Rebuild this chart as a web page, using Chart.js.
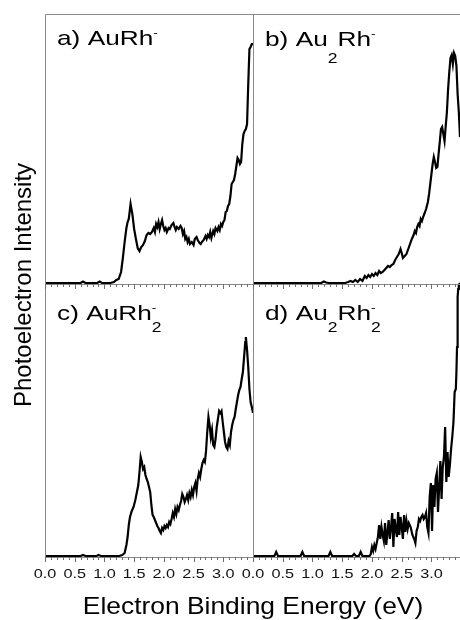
<!DOCTYPE html>
<html>
<head>
<meta charset="utf-8">
<script src="https://cdn.jsdelivr.net/npm/chart.js@4.4.1/dist/chart.umd.min.js"></script>
<style>
  html, body { margin: 0; padding: 0; background: #fff; overflow: hidden; }
  #wrap { position: relative; width: 460px; height: 620px; }
  #wrap canvas { position: absolute; left: 0; top: 0; }
</style>
</head>
<body>
<div id="wrap">
  <canvas id="pa" width="460" height="620"></canvas>
  <canvas id="pb" width="460" height="620"></canvas>
  <canvas id="pc" width="460" height="620"></canvas>
  <canvas id="pd" width="460" height="620"></canvas>
</div>
<script>
// valeurs (energie en eV, intensite en unites arbitraires)
const energieA = [0.00, 0.30, 0.60, 0.64, 0.68, 0.88, 0.92, 0.96, 1.10, 1.16, 1.20, 1.24, 1.28, 1.31, 1.34, 1.37, 1.39, 1.41, 1.44, 1.47,
  1.50, 1.53, 1.56, 1.59, 1.62, 1.65, 1.68, 1.71, 1.74, 1.77, 1.80, 1.83, 1.85, 1.87, 1.89, 1.91, 1.93, 1.95, 1.97, 1.99,
  2.01, 2.03, 2.05, 2.08, 2.10, 2.13, 2.16, 2.18, 2.20, 2.22, 2.25, 2.28, 2.30, 2.32, 2.34, 2.36, 2.38, 2.40, 2.42, 2.44,
  2.47, 2.50, 2.52, 2.55, 2.57, 2.60, 2.62, 2.64, 2.67, 2.70, 2.72, 2.74, 2.76, 2.78, 2.80, 2.83, 2.85, 2.87, 2.90, 2.92,
  2.94, 2.96, 2.98, 3.00, 3.02, 3.04, 3.06, 3.08, 3.10, 3.12, 3.14, 3.16, 3.18, 3.20, 3.22, 3.24, 3.26, 3.28, 3.30, 3.32,
  3.34, 3.36, 3.38, 3.40, 3.42, 3.44, 3.46, 3.48, 3.50];
const intensiteA = [1, 1, 1, 2.5, 1, 1, 2.5, 1, 1, 2, 4, 5, 12, 26, 42, 56, 62, 65, 80, 70,
  55, 45, 36, 33, 37, 39, 43, 49, 51, 50, 52, 56, 52, 60, 57, 62, 55, 60, 64, 58,
  54, 56, 52, 56, 55, 59, 61, 57, 54, 57, 55, 58, 56, 50, 53, 45, 47, 42, 45, 40,
  42, 39, 45, 47, 44, 41, 40, 42, 44, 48, 45, 49, 47, 52, 46, 53, 50, 56, 53, 57,
  54, 60, 58, 62, 64, 72, 73, 78, 80, 88, 100, 102, 104, 110, 118, 126, 124, 120, 122, 140,
  150, 153, 155, 160, 200, 235, 237, 240, 240];

const energieB = [0.00, 1.15, 1.19, 1.23, 1.27, 1.55, 1.60, 1.64, 1.68, 1.72, 1.76, 1.80, 1.84, 1.88, 1.91, 1.94, 1.97, 2.00, 2.03, 2.06,
  2.09, 2.12, 2.15, 2.18, 2.21, 2.24, 2.27, 2.30, 2.33, 2.36, 2.39, 2.42, 2.45, 2.48, 2.50, 2.52, 2.55, 2.58, 2.61, 2.64,
  2.67, 2.70, 2.72, 2.74, 2.76, 2.78, 2.80, 2.82, 2.84, 2.86, 2.88, 2.91, 2.94, 2.96, 2.98, 3.00, 3.02, 3.04, 3.06, 3.08,
  3.10, 3.12, 3.14, 3.16, 3.18, 3.20, 3.22, 3.24, 3.26, 3.28, 3.30, 3.32, 3.34, 3.36, 3.38, 3.40, 3.42, 3.44, 3.46, 3.48];
const intensiteB = [1, 1, 2.5, 1.5, 1, 1, 2, 3, 2, 4, 2, 5, 3, 8, 6, 9, 7, 10, 8, 11,
  9, 13, 11, 12, 14, 16, 18, 17, 19, 20, 24, 27, 30, 35, 31, 26, 28, 30, 35, 40,
  45, 49, 53, 51, 57, 60, 58, 65, 63, 67, 70, 75, 82, 90, 100, 110, 120, 127, 122, 116,
  117, 130, 142, 155, 157, 150, 143, 158, 172, 195, 212, 226, 229, 220, 231, 228, 218, 190, 172, 147];

const energieC = [0.00, 0.60, 0.64, 0.68, 0.87, 0.90, 0.94, 1.25, 1.30, 1.34, 1.37, 1.39, 1.41, 1.43, 1.46, 1.49, 1.52, 1.55, 1.57, 1.59,
  1.61, 1.63, 1.65, 1.67, 1.69, 1.71, 1.73, 1.75, 1.77, 1.79, 1.81, 1.83, 1.85, 1.87, 1.89, 1.91, 1.93, 1.95, 1.97, 1.99,
  2.01, 2.03, 2.05, 2.07, 2.09, 2.11, 2.13, 2.15, 2.17, 2.19, 2.21, 2.23, 2.25, 2.27, 2.29, 2.31, 2.33, 2.35, 2.37, 2.39,
  2.41, 2.43, 2.45, 2.47, 2.49, 2.51, 2.53, 2.55, 2.57, 2.59, 2.61, 2.63, 2.65, 2.67, 2.69, 2.71, 2.73, 2.75, 2.77, 2.79,
  2.81, 2.83, 2.85, 2.87, 2.89, 2.91, 2.93, 2.95, 2.97, 2.99, 3.01, 3.03, 3.05, 3.07, 3.09, 3.11, 3.13, 3.15, 3.17, 3.19,
  3.21, 3.23, 3.25, 3.27, 3.29, 3.31, 3.33, 3.35, 3.37, 3.38, 3.40, 3.42, 3.44, 3.46, 3.48, 3.50];
const intensiteC = [1, 1, 2, 1, 1, 2, 1, 1, 2, 4, 12, 20, 32, 40, 46, 50, 57, 66, 72, 85,
  100, 95, 88, 90, 82, 78, 75, 70, 65, 52, 42, 40, 37, 34, 31, 29, 26, 24, 29, 27,
  31, 29, 32, 30, 35, 33, 38, 44, 40, 48, 43, 50, 47, 52, 56, 63, 60, 55, 58, 62,
  57, 64, 60, 67, 62, 70, 74, 66, 78, 84, 80, 88, 94, 97, 95, 106, 125, 140, 132, 120,
  127, 112, 110, 118, 130, 138, 146, 144, 146, 135, 125, 115, 110, 108, 116, 112, 125, 132, 137, 140,
  148, 155, 162, 167, 170, 178, 185, 200, 215, 220, 207, 190, 168, 155, 150, 144];

const energieD = [0.00, 0.36, 0.39, 0.42, 0.80, 0.83, 0.86, 1.27, 1.30, 1.33, 1.67, 1.70, 1.73, 1.78, 1.81, 1.84, 1.96, 1.98, 2.00, 2.02,
  2.04, 2.06, 2.08, 2.10, 2.12, 2.14, 2.16, 2.18, 2.20, 2.22, 2.24, 2.26, 2.28, 2.30, 2.32, 2.34, 2.36, 2.38, 2.40, 2.42,
  2.44, 2.46, 2.48, 2.50, 2.52, 2.54, 2.56, 2.58, 2.60, 2.62, 2.65, 2.68, 2.71, 2.73, 2.75, 2.77, 2.79, 2.81, 2.83, 2.85,
  2.87, 2.89, 2.91, 2.93, 2.95, 2.97, 2.99, 3.01, 3.03, 3.05, 3.07, 3.09, 3.11, 3.13, 3.15, 3.17, 3.19, 3.21, 3.23, 3.25,
  3.27, 3.29, 3.31, 3.33, 3.35, 3.37, 3.39, 3.41, 3.42, 3.43, 3.44, 3.45, 3.46, 3.48];
const intensiteD = [1, 1, 5, 1, 1, 5, 1, 1, 5, 1, 1, 3, 1, 1, 5, 1, 1, 3, 10, 6,
  12, 8, 14, 20, 32, 18, 30, 22, 16, 34, 12, 24, 37, 18, 30, 44, 10, 38, 28, 20,
  45, 22, 40, 30, 18, 42, 25, 36, 28, 34, 30, 22, 18, 14, 26, 30, 38, 36, 40, 42,
  38, 40, 44, 30, 24, 60, 74, 26, 72, 50, 78, 84, 45, 70, 96, 58, 90, 100, 130, 75,
  105, 80, 92, 108, 120, 135, 165, 168, 185, 210, 260, 268, 272, 274];

const etiquettesX = [0, 0.5, 1.0, 1.5, 2.0, 2.5, 3.0];
const titreX = 'Electron Binding Energy (eV)';
const titreY = 'Photoelectron Intensity';

const FONT = '"Liberation Sans", Arial, sans-serif';

function texteEtire(ctx, txt, x, y, size, sx, align) {
  ctx.save();
  ctx.font = size + 'px ' + FONT;
  ctx.translate(x, y);
  ctx.scale(sx, 1);
  ctx.textAlign = align || 'left';
  ctx.fillText(txt, 0, 0);
  const w = ctx.measureText(txt).width * sx;
  ctx.restore();
  return w;
}

// morceaux: [texte, 'n' | 'sub' | 'sup', sans avancer]
function nomPanneau(ctx, x, y, morceaux, subDy) {
  let cx = x;
  morceaux.forEach(m => {
    let size = 21, dy = 0;
    if (m[1] === 'sub') { size = 14; dy = subDy; }
    if (m[1] === 'sup') { size = 11; dy = -9; }
    const w = texteEtire(ctx, m[0], cx, y + dy, size, 1.25);
    if (!m[2]) cx += w;
  });
}

function cadre(cfg) {
  return {
    id: 'cadre',
    afterDraw(chart) {
      const ctx = chart.ctx;
      const a = chart.chartArea;
      const xs = chart.scales.x;
      ctx.save();
      ctx.strokeStyle = '#8a8a8a';
      ctx.lineWidth = 1;
      ctx.beginPath();
      ctx.moveTo(a.left + 0.5, a.bottom + 0.5);
      ctx.lineTo(a.left + 0.5, a.top + 0.5);
      ctx.lineTo(a.right + 0.5, a.top + 0.5);
      if (cfg.bordDroit) ctx.lineTo(a.right + 0.5, a.bottom + 0.5);
      ctx.moveTo(a.left + 0.5, a.bottom + 0.5);
      ctx.lineTo(a.right + 0.5, a.bottom + 0.5);
      ctx.stroke();

      if (cfg.graduations) {
        ctx.strokeStyle = '#6e6e6e';
        ctx.beginPath();
        for (let i = 0; i <= 35; i++) {
          const v = i / 10;
          if (v > xs.max + 1e-9) break;
          const px = Math.round(xs.getPixelForValue(v)) + 0.5;
          const len = (i % 5 === 0) ? 5 : 3;
          ctx.moveTo(px, a.bottom);
          ctx.lineTo(px, a.bottom + len);
          ctx.moveTo(px, a.top);
          ctx.lineTo(px, a.top + len);
        }
        ctx.stroke();
        ctx.fillStyle = '#111';
        ctx.textBaseline = 'middle';
        etiquettesX.forEach(v => {
          texteEtire(ctx, v.toFixed(1), xs.getPixelForValue(v), a.bottom + 17, 13, 1.25, 'center');
        });
      }

      ctx.fillStyle = '#000';
      ctx.textBaseline = 'alphabetic';
      nomPanneau(ctx, a.left + 12, a.top + cfg.nomY, cfg.nom, cfg.subDy || 12);

      if (cfg.titres) {
        texteEtire(ctx, titreX, 253, 614, 24, 1.1, 'center');
        ctx.save();
        ctx.translate(31, 285);
        ctx.rotate(-Math.PI / 2);
        texteEtire(ctx, titreY, 0, 0, 24, 1.0, 'center');
        ctx.restore();
      }
      ctx.restore();
    }
  };
}

function panneau(id, energie, intensite, yMax, xMax, pad, cfg) {
  return new Chart(document.getElementById(id), {
    type: 'line',
    data: {
      datasets: [{
        data: energie.map((e, i) => ({ x: e, y: intensite[i] })),
        borderColor: '#000',
        borderWidth: 2.2,
        pointRadius: 0,
        tension: 0,
        fill: false,
        clip: false
      }]
    },
    options: {
      responsive: false,
      animation: false,
      events: [],
      layout: { padding: pad },
      plugins: { legend: { display: false }, tooltip: { enabled: false } },
      scales: {
        x: { type: 'linear', min: 0, max: xMax, display: false },
        y: { type: 'linear', min: 0, max: yMax, display: false }
      }
    },
    plugins: [cadre(cfg)]
  });
}

panneau('pa', energieA, intensiteA, 270, 3.5, { left: 45, top: 14, right: 207, bottom: 336 },
  { nom: [['a) AuRh', 'n'], ['-', 'sup']], nomY: 31, bordDroit: true });
panneau('pb', energieB, intensiteB, 270, 3.48, { left: 253, top: 14, right: 0, bottom: 336 },
  { nom: [['b) Au', 'n'], ['2', 'sub'], ['Rh', 'n'], ['-', 'sup']], nomY: 32, subDy: 17 });
panneau('pc', energieC, intensiteC, 273, 3.5, { left: 45, top: 284, right: 207, bottom: 63 },
  { nom: [['c) AuRh', 'n'], ['2', 'sub', true], ['-', 'sup']], nomY: 36, subDy: 12, graduations: true, bordDroit: true, titres: true });
panneau('pd', energieD, intensiteD, 273, 3.48, { left: 253, top: 284, right: 0, bottom: 63 },
  { nom: [['d) Au', 'n'], ['2', 'sub'], ['Rh', 'n'], ['2', 'sub', true], ['-', 'sup']], nomY: 36, subDy: 12, graduations: true });
</script>
</body>
</html>
